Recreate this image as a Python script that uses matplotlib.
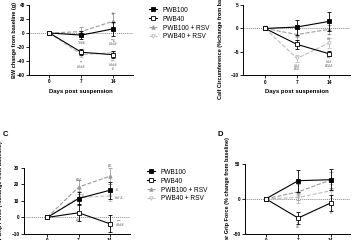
import matplotlib
matplotlib.use('Agg')
import matplotlib.pyplot as plt

plt.rcParams['font.family'] = ['Liberation Sans', 'DejaVu Sans']

days = [0, 7, 14]
groups = ['PWB100', 'PWB40', 'PWB100 + RSV', 'PWB40 + RSV']

# order of rows: PWB100, PWB40, PWB100 + RSV, PWB40 + RSV
bw_mean = [[0, -3, 6], [0, -27.5, -31], [0, 2, 17], [0, -31, -28]]
bw_err = [[0, 6, 10], [0, 4, 5], [0, 6, 12], [0, 3, 3]]

calf_mean = [[0, 0.3, 1.5], [0, -3.4, -5.4], [0, -1.3, -0.2], [0, -6.4, -3.1]]
calf_err = [[0, 1.6, 2.0], [0, 0.9, 0.5], [0, 1.2, 1.0], [0, 0.8, 1.0]]

fore_mean = [[0, 11.4, 16.4], [0, 2.8, -3.8], [0, 18.3, 24.9], [0, 12, 13]]
fore_err = [[0, 4, 5], [0, 5, 5], [0, 4, 5], [0, 4, 3]]

rear_mean = [[0, 26, 27.5], [0, -27.5, -6], [0, 10, 27], [0, 2, 11.6]]
rear_err = [[0, 16, 15], [0, 8, 12], [0, 12, 12], [0, 8, 10]]

# significance marks: (day, value, text)
bw_marks = [(7, -15, '*##£'), (7, -43, '**'), (7, -48, '####'),
            (14, 27, '£'), (14, -12, '**£'), (14, -16, '####'),
            (14, -41, '***'), (14, -46, '####'), (14, -52, '£')]
calf_marks = [(7, -8.0, '###'), (7, -8.7, '£££'),
              (14, -1.6, '**'), (14, -2.3, '##'),
              (14, -6.4, '***'), (14, -7.1, '###'), (14, -8.0, '££££')]
fore_marks = [(7, 22.5, '£££'), (8, 13, '£'), (14, 31, '££'),
              (15.6, 16.4, '£'), (16, 11.5, '## £'), (7, -1.5, '##'),
              (16, -2.5, '***'), (16.3, -4.5, '####')]
rear_marks = [(7, -35, '**'), (7, -40, '#£'), (14, -20, '#')]

styles = [
    dict(color='black', ls='-', marker='s', mfc='black', mec='black', ms=3, zorder=5),
    dict(color='black', ls='-', marker='s', mfc='white', mec='black', ms=3.5, zorder=6),
    dict(color='#9a9a9a', ls='--', marker='^', mfc='#9a9a9a', mec='#9a9a9a', ms=2.5, zorder=3),
    dict(color='#bdbdbd', ls='--', marker='v', mfc='white', mec='#bdbdbd', ms=2.5, zorder=2),
]

fig = plt.figure(figsize=(3.6, 2.4), dpi=100)
W, H = 360.0, 240.0


def make_axes(left, right, top, bottom):
    return fig.add_axes([left / W, 1 - bottom / H, (right - left) / W, (bottom - top) / H])


def draw_panel(ax, means, errs, marks, ylim, yticks, xlim, ylabel, lab_x, lab_y=0.5):
    handles = []
    for m, e, st in zip(means, errs, styles):
        h = ax.errorbar(days, m, yerr=e, lw=0.8, elinewidth=0.6, capsize=1.2,
                        capthick=0.6, mew=0.6, clip_on=False, **st)
        handles.append(h[0])
    ax.axhline(0, color='#888888', ls=(0, (1, 1)), lw=0.7, zorder=1)
    for x, y, t in marks:
        ax.text(x, y, t, fontsize=2.8, color='#555555', ha='center', va='center')
    ax.set_xlim(xlim)
    ax.set_ylim(ylim)
    ax.set_xticks(days)
    ax.set_yticks(yticks)
    for s in ['top', 'right']:
        ax.spines[s].set_visible(False)
    for s in ['left', 'bottom']:
        ax.spines[s].set_linewidth(0.7)
    ax.tick_params(length=2, width=0.6, labelsize=3.4, pad=1.2)
    for lb in ax.get_xticklabels() + ax.get_yticklabels():
        lb.set_fontweight('bold')
    ax.set_xlabel('Days post suspension', fontsize=4.3, fontweight='bold', labelpad=3)
    ax.set_ylabel(ylabel, fontsize=4.0, fontweight='bold')
    ax.yaxis.set_label_coords(lab_x, lab_y)
    return handles


axA = make_axes(29.3, 133, 5, 75)
hA = draw_panel(axA, bw_mean, bw_err, bw_marks, (-60, 40), [-60, -40, -20, 0, 20, 40],
                (-4.4, 18.3), 'BW change from baseline (g)', -0.115)

axB = make_axes(243.3, 350, 5, 75.3)
draw_panel(axB, calf_mean, calf_err, calf_marks, (-10, 5), [-10, -5, 0, 5],
           (-4.75, 18.6), 'Calf Circumference (%change from baseline)', -0.19, 0.5)

axC = make_axes(24, 130, 167.7, 234)
hC = draw_panel(axC, fore_mean, fore_err, fore_marks, (-10, 30), [-10, 0, 10, 20, 30],
                (-5.2, 18.5), 'Forepaw Grip Force (%change from baseline)', -0.195)

axD = make_axes(245, 350, 164, 233.7)
draw_panel(axD, rear_mean, rear_err, rear_marks, (-50, 50), [-50, 0, 50],
           (-4.5, 18.2), 'Rear Grip Force (% change from baseline)', -0.143, 0.6)

fig.text(3 / W, 1 - 134 / H, 'C', fontsize=5.5, fontweight='bold', va='center')
fig.text(217 / W, 1 - 135 / H, 'D', fontsize=5.5, fontweight='bold', va='center')

for ax, hs, (lx, ly) in [(axA, hA, (146, 4)), (axC, hC, (144, 166))]:
    ax.legend(hs, groups, loc='upper left', bbox_to_anchor=(lx / W, 1 - ly / H),
              bbox_transform=fig.transFigure, frameon=False, fontsize=4.7,
              handlelength=1.3, handletextpad=0.9, labelspacing=0.3,
              borderaxespad=0)

fig.savefig('out.png', dpi=100)
